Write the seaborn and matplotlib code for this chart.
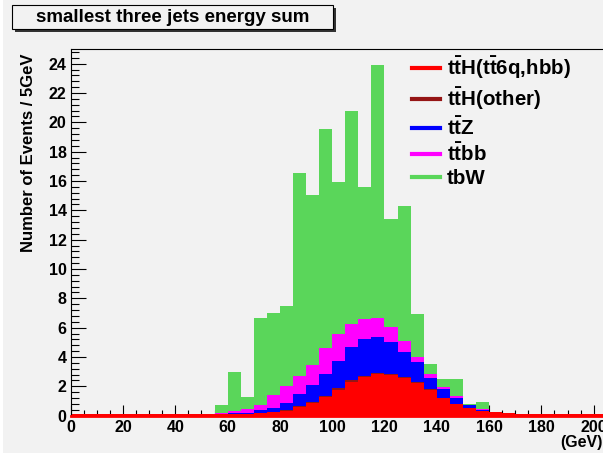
import numpy as np
import pandas as pd
import matplotlib
matplotlib.use("Agg")
import matplotlib.pyplot as plt
import seaborn as sns
from matplotlib.lines import Line2D
from matplotlib.patches import Rectangle
from matplotlib.ticker import MultipleLocator

# ---------------- data (events per 5 GeV bin, bins 0..220 GeV) ----------------
bin_lo = np.arange(0, 220, 5)
processes = ["ttH6q", "ttHother", "ttZ", "ttbb", "tbW"]
legend_labels = [r"t$\bar{t}$H(t$\bar{t}$6q,hbb)", r"t$\bar{t}$H(other)",
                 r"t$\bar{t}$Z", r"t$\bar{t}$bb", "tbW"]
colors = ["#ff0000", "#951515", "#0000ff", "#ff00ff", "#5ad65a"]

ttH6q = [0.1, 0.1, 0.1, 0.1, 0.1, 0.1, 0.1, 0.1, 0.1, 0.1, 0.1,
         0.1, 0.1, 0.12, 0.17, 0.22, 0.34, 0.61, 0.86, 1.27, 1.77, 2.32, 2.61,
         2.86, 2.77, 2.54, 2.21, 1.75, 1.18, 0.78, 0.52, 0.30, 0.23, 0.16,
         0.1, 0.1, 0.1, 0.1, 0.1, 0.1, 0.1, 0.1, 0.1, 0.1]
ttHother = [0, 0, 0, 0, 0, 0, 0, 0, 0, 0, 0,
            0, 0, 0, 0, 0.03, 0.05, 0.05, 0.06, 0.08, 0.1, 0.12, 0.1,
            0.08, 0.08, 0.08, 0.07, 0.05, 0.05, 0.04, 0.03, 0.02, 0, 0,
            0, 0, 0, 0, 0, 0, 0, 0, 0, 0]
ttZ = [0, 0, 0, 0, 0, 0, 0, 0, 0, 0, 0,
       0.02, 0.05, 0.08, 0.22, 0.30, 0.50, 0.80, 1.16, 1.52, 1.87, 2.26, 2.53,
       2.44, 2.19, 1.71, 1.41, 0.78, 0.57, 0.41, 0.18, 0.07, 0, 0,
       0, 0, 0, 0, 0, 0, 0, 0, 0, 0]
ttbb = [0, 0, 0, 0, 0, 0, 0, 0, 0, 0, 0,
        0.03, 0.15, 0.24, 0.34, 0.84, 1.12, 1.25, 1.36, 1.74, 1.84, 1.57, 1.35,
        1.25, 1.02, 0.78, 0.34, 0.27, 0.16, 0.12, 0.02, 0.07, 0.01, 0,
        0, 0, 0, 0, 0, 0, 0, 0, 0, 0]
tbW = [0, 0, 0, 0, 0, 0, 0, 0, 0, 0, 0,
       0.56, 2.71, 0.86, 5.93, 5.61, 5.49, 13.86, 11.60, 14.97, 10.33, 14.47, 8.99,
       17.29, 7.36, 9.20, 2.87, 0.66, 0.55, 1.16, 0.04, 0.48, 0, 0,
       0, 0, 0, 0, 0, 0, 0, 0, 0, 0]

series = {"ttH6q": ttH6q, "ttHother": ttHother, "ttZ": ttZ, "ttbb": ttbb, "tbW": tbW}
centers = bin_lo + 2.5
df = pd.concat([pd.DataFrame({"x": centers, "w": series[p], "proc": p}) for p in processes],
               ignore_index=True)

# ---------------- style ----------------
BG = "#f2f2f2"
plt.rcParams["font.family"] = ["Liberation Sans", "DejaVu Sans"]
plt.rcParams["font.weight"] = "bold"
plt.rcParams["mathtext.fontset"] = "custom"
plt.rcParams["mathtext.bf"] = "Liberation Sans:bold"
plt.rcParams["mathtext.rm"] = "Liberation Sans:bold"
plt.rcParams["mathtext.it"] = "Liberation Sans:bold"
plt.rcParams["mathtext.default"] = "bf"

W, H = 603, 453
fig = plt.figure(figsize=(W / 100, H / 100), dpi=100, facecolor=BG)
x0_px, y0_px, ytop_px = 70.7, 415.7, 49.0
px_per_gev = 2.615
ax = fig.add_axes([x0_px / W, (H - y0_px) / H, 220 * px_per_gev / W, (y0_px - ytop_px) / H])
ax.set_facecolor(BG)

sns.histplot(data=df, x="x", weights="w", hue="proc",
             hue_order=processes[::-1], multiple="stack", binwidth=5, binrange=(0, 220),
             element="step", fill=True, alpha=1, linewidth=0,
             palette=dict(zip(processes, colors)), legend=False, ax=ax)

ax.set_xlim(0, 220)
ax.set_ylim(0, 25)
ax.set_xlabel("")
ax.set_ylabel("")
ax.set_axisbelow(True)

ax.xaxis.set_major_locator(MultipleLocator(20))
ax.xaxis.set_minor_locator(MultipleLocator(5))
ax.yaxis.set_major_locator(MultipleLocator(2))
ax.yaxis.set_minor_locator(MultipleLocator(0.4))
ax.tick_params(axis="x", which="major", direction="in", length=8, width=0.8,
               labelsize=11.5, pad=3, colors="black")
ax.tick_params(axis="x", which="minor", direction="in", length=4, width=0.8)
ax.tick_params(axis="y", which="major", direction="in", length=11, width=0.8,
               labelsize=11.5, pad=3)
ax.tick_params(axis="y", which="minor", direction="in", length=6, width=0.8)
for lab in ax.get_xticklabels() + ax.get_yticklabels():
    lab.set_fontweight("bold")

for s in ["left", "top"]:
    ax.spines[s].set_linewidth(0.8)
    ax.spines[s].set_color("black")
ax.spines["bottom"].set_color("#ff0000")
ax.spines["bottom"].set_linewidth(2)
ax.spines["right"].set_visible(False)

# y label
fig.text(28.5 / W, 1 - 53 / H, "Number of Events / 5GeV", rotation=90,
         ha="center", va="top", fontsize=12, fontweight="bold")
# x unit label
fig.text(560 / W, 1 - 443 / H, "(GeV)", ha="left", va="center",
         fontsize=11.5, fontweight="bold")

# legend
handles = [Line2D([], [], color=c, lw=3) for c in colors]
fig.legend(handles, legend_labels, loc="upper left",
           bbox_to_anchor=(412 / W, 1 - 55 / H), frameon=False,
           prop={"size": 14.8, "weight": "bold"}, handlelength=1.36,
           handletextpad=0.35, labelspacing=0.2, borderpad=0, borderaxespad=0)

# title box with shadow
bx0, by0, bx1, by1 = 11.7, 5.0, 333.0, 29.0
fig.add_artist(Rectangle(((bx0 + 3) / W, 1 - (by1 + 3) / H), (bx1 - bx0) / W, (by1 - by0) / H,
                         transform=fig.transFigure, facecolor="#333333", edgecolor="none"))
fig.add_artist(Rectangle((bx0 / W, 1 - by1 / H), (bx1 - bx0) / W, (by1 - by0) / H,
                         transform=fig.transFigure, facecolor=BG, edgecolor="black", lw=0.8))
fig.text((bx0 + bx1) / 2 / W, 1 - (by0 + by1) / 2 / H, "smallest three jets energy sum",
         ha="center", va="center", fontsize=13.5, fontweight="bold")

# light canvas bevel at left edge
fig.add_artist(Rectangle((0, 0), 3.5 / W, 1, transform=fig.transFigure,
                         facecolor="white", edgecolor="none"))

fig.savefig("out.png", dpi=100, facecolor=BG)
